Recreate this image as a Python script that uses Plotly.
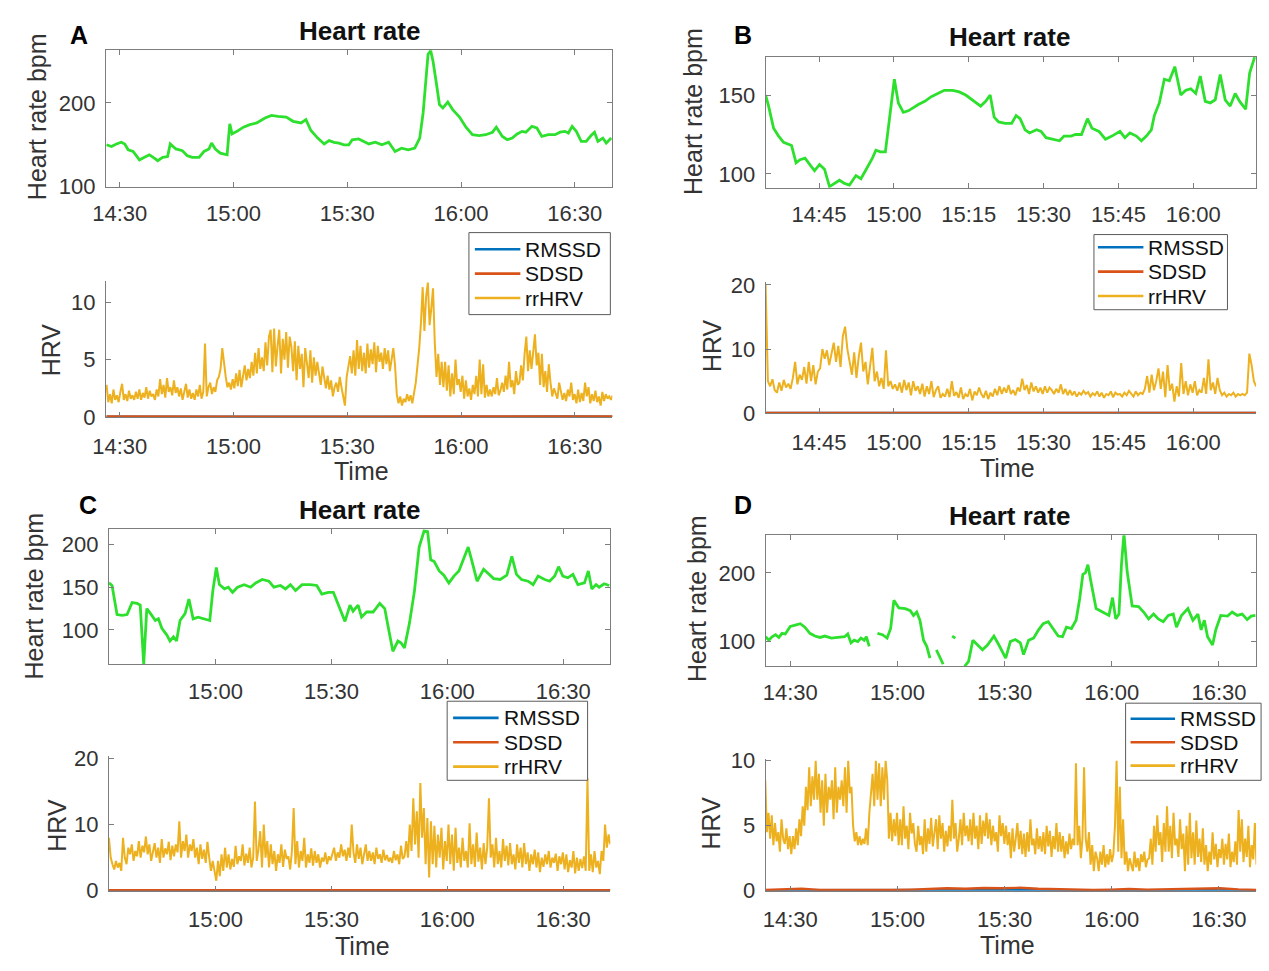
import pandas as pd
import plotly.graph_objects as go

DAY = "2021-06-01"

# ---------------- Heart rate (bpm) ----------------
# Panel A: minutes after 14:30
a_hr_min = [-3.5, -2.2, -0.9, 0.4, 1.3, 2.2, 3.5, 5.2, 6.5, 7.8,
            9.1, 10.0, 11.3, 12.6, 13.3, 14.8, 16.5, 17.8, 19.1, 20.9,
            22.2, 23.5, 24.2, 25.2, 26.5, 28.3, 29.0, 29.6, 30.9, 32.6,
            34.3, 36.1, 38.3, 40.0, 41.7, 43.9, 45.7, 47.0, 47.8, 49.1,
            50.4, 52.2, 53.9, 55.2, 56.5, 57.8, 59.1, 60.4, 61.3, 63.0,
            64.3, 65.7, 67.4, 69.1, 70.9, 72.6, 74.3, 76.1, 77.8, 79.1,
            80.0, 80.7, 81.3, 82.0, 82.6, 83.5, 84.3, 85.2, 86.5, 87.8,
            89.6, 91.3, 93.0, 94.8, 96.5, 98.3, 99.3, 100.9, 102.2, 103.5,
            104.8, 106.1, 107.1, 108.7, 110.0, 111.3, 113.0, 114.8, 116.1, 117.4,
            118.3, 119.3, 120.4, 121.7, 123.0, 124.3, 125.2, 126.1, 127.4, 128.3,
            129.6]
a_hr_bpm = [150, 148, 151, 153, 151, 144, 142, 132, 135, 138,
            134, 131, 135, 136, 151, 145, 143, 137, 135, 135,
            142, 145, 152, 145, 140, 138, 175, 163, 166, 171,
            174, 176, 182, 185, 184, 183, 178, 177, 176, 180,
            167, 158, 151, 155, 153, 152, 150, 150, 156, 157,
            154, 151, 153, 150, 153, 142, 146, 144, 146, 158,
            188, 227, 258, 262, 250, 223, 198, 194, 201, 192,
            183, 171, 162, 161, 162, 165, 171, 160, 156, 158,
            163, 166, 165, 172, 170, 160, 162, 162, 165, 166,
            164, 172, 166, 154, 154, 161, 165, 154, 158, 152,
            158]

# Panel B: minutes after 14:45
b_hr_min = [-10.7, -10.1, -9.1, -8.1, -7.1, -6.1, -5.5, -4.6, -3.8, -2.8,
            -1.8, -0.9, 0.1, 1.1, 2.1, 3.1, 4.1, 5.1, 6.1, 7.4,
            8.4, 9.3, 10.7, 11.4, 12.3, 13.3, 14.3, 15.1, 15.9, 16.9,
            17.9, 18.9, 19.9, 21.2, 22.5, 23.8, 25.1, 26.8, 28.1, 29.4,
            30.7, 32.4, 33.4, 34.3, 35.1, 36.0, 37.3, 38.6, 39.5, 40.3,
            41.3, 42.2, 43.6, 44.5, 45.5, 46.8, 48.2, 49.1, 50.5, 51.4,
            52.6, 53.8, 54.7, 56.1, 57.4, 58.7, 60.3, 61.3, 62.3, 63.6,
            64.6, 65.6, 66.6, 67.2, 68.2, 69.2, 70.2, 71.3, 72.5, 73.5,
            74.5, 75.5, 76.4, 77.4, 78.4, 79.4, 80.4, 81.4, 82.4, 83.4,
            84.3, 85.5, 86.3, 87.3]
b_hr_bpm = [150, 143, 129, 124, 120, 119, 118, 107, 109, 110,
            106, 102, 106, 103, 92, 94, 96, 94, 93, 99,
            97, 102, 110, 115, 114, 114, 139, 160, 145, 139,
            140, 142, 144, 146, 149, 151, 153, 153, 152, 150,
            147, 143, 146, 150, 136, 133, 132, 132, 137, 135,
            128, 126, 128, 127, 123, 122, 121, 124, 124, 125,
            125, 135, 129, 127, 122, 124, 127, 123, 126, 124,
            121, 124, 128, 137, 145, 160, 159, 168, 150, 153,
            154, 151, 162, 146, 145, 147, 163, 147, 143, 151,
            146, 141, 164, 174]

# Panel C: minutes after 15:00
c_hr_min = [-27.6, -26.8, -25.5, -24.2, -22.9, -21.6, -20.3, -19.5, -18.6, -17.8,
            -16.5, -15.6, -14.8, -13.9, -12.6, -11.8, -10.9, -10.1, -9.2, -7.9,
            -6.9, -5.8, -4.5, -2.8, -1.5, -0.7, 0.2, 1.0, 2.3, 3.3,
            4.4, 5.7, 7.4, 9.1, 10.4, 12.1, 13.8, 15.1, 16.8, 18.1,
            19.4, 20.7, 22.4, 24.5, 26.2, 27.5, 29.2, 30.5, 31.4, 32.6,
            33.5, 34.8, 35.6, 36.9, 37.8, 39.1, 40.8, 42.5, 43.8, 45.0,
            45.9, 47.2, 48.0, 48.9, 50.2, 51.5, 52.7, 54.0, 54.9, 55.7,
            56.6, 57.9, 59.1, 60.4, 61.7, 63.0, 64.3, 65.4, 66.4, 67.7,
            69.4, 70.7, 72.0, 73.7, 75.4, 76.7, 77.9, 79.2, 80.9, 82.2,
            83.5, 85.2, 86.5, 87.8, 88.8, 89.9, 91.2, 92.5, 93.8, 95.5,
            96.5, 97.4, 98.5, 99.3, 100.6, 101.9]
c_hr_bpm = [155, 152, 118, 117, 118, 132, 131, 129, 60, 125,
            117, 111, 113, 102, 94, 87, 92, 87, 111, 119,
            136, 113, 115, 113, 111, 146, 173, 153, 148, 150,
            144, 150, 153, 150, 155, 159, 157, 150, 152, 148,
            153, 146, 153, 153, 152, 142, 144, 144, 134, 121,
            110, 129, 122, 129, 115, 121, 121, 131, 125, 96,
            75, 87, 85, 79, 108, 146, 197, 216, 215, 182,
            180, 169, 164, 155, 163, 169, 184, 197, 180, 157,
            171, 165, 160, 159, 164, 186, 165, 159, 157, 153,
            163, 159, 157, 163, 174, 163, 161, 165, 153, 155,
            169, 148, 153, 150, 154, 152]

# Panel D: minutes after 14:30 (None = missing samples)
d_hr_min = [-6.9, -6.0, -5.1, -4.1, -3.2, -2.3, -1.4, 0.0, 1.4, 2.8,
            4.1, 5.5, 6.9, 8.3, 9.7, 11.5, 13.3, 15.2, 16.1, 17.0,
            17.9, 18.9, 19.8, 20.7, 21.3, 22.1, 23.0, 24.4, 25.8, 27.1,
            28.1, 29.0, 30.4, 32.2, 33.6, 34.5, 35.4, 36.3, 37.3, 38.2,
            39.1, 40.0, 40.9, 42.1, 42.8, 43.5, 45.3, 46.2, 48.0, 48.8,
            49.9, 51.1, 52.4, 53.8, 55.2, 57.0, 58.4, 60.3, 61.6, 63.0,
            64.4, 65.3, 66.7, 68.1, 69.5, 70.8, 72.2, 73.6, 75.0, 76.2,
            77.3, 78.7, 80.0, 81.0, 81.9, 82.6, 83.3, 84.2, 85.6, 87.4,
            89.2, 90.2, 91.1, 92.0, 92.7, 93.4, 94.3, 95.7, 97.5, 98.9,
            100.3, 101.7, 103.0, 104.4, 105.8, 107.2, 108.1, 109.5, 111.3, 112.7,
            114.1, 115.0, 115.9, 116.8, 118.2, 119.1, 120.5, 122.4, 123.7, 125.1,
            126.5, 127.9, 129.0, 130.2]
d_hr_bpm = [107, 102, 107, 110, 106, 112, 111, 122, 124, 126,
            121, 112, 108, 106, 108, 105, 106, 107, 111, 98,
            102, 100, 105, 102, 107, 93, None, 112, 110, 105,
            119, 160, 149, 148, 145, 138, 143, 131, 102, 93,
            76, None, 88, 74, 67, None, 108, 105, None, 64,
            71, 102, 95, 88, 95, 108, 95, 76, 100, 103,
            98, 81, 102, 105, 117, 126, 129, 119, 108, 107,
            121, 119, 131, 162, 198, 200, 212, 186, 148, 143,
            138, 164, 133, 140, 212, 257, 202, 152, 151, 143,
            133, 140, 133, 129, 138, 140, 121, 138, 148, 131,
            140, 117, 131, 107, 95, 117, 138, 137, 143, 138,
            140, 132, 137, 138]

# ---------------- HRV (regularly sampled between start and end) ----------------
a_hrv_span = ("14:26:30", "16:40:00")
a_rrhrv = [2.8, 1.3, 2.0, 1.2, 2.4, 1.5, 1.9, 1.3,
           2.2, 2.9, 1.5, 2.0, 1.4, 2.3, 1.6, 1.9, 1.5, 2.2, 1.6,
           2.4, 1.5, 2.1, 1.7, 2.6, 1.6, 2.3, 1.8, 2.0, 1.5, 2.4,
           1.8, 3.3, 2.0, 2.8, 1.7, 3.4, 2.2, 2.6, 1.9, 3.2, 2.1,
           2.6, 1.8, 2.5, 1.5, 2.2, 2.9, 1.7, 2.4, 1.6, 2.1, 1.5,
           2.4, 1.8, 2.8, 1.6, 2.2, 6.4, 1.8, 2.6, 3.0, 2.0, 2.6,
           2.2, 3.2, 3.5, 4.2, 6.0, 4.6, 3.5, 2.6, 3.0, 2.4, 3.3,
           2.5, 3.8, 2.7, 4.1, 2.6, 3.4, 4.5, 3.2, 4.2, 3.4, 4.8,
           3.6, 5.6, 3.8, 6.0, 4.2, 5.2, 4.0, 6.5, 4.5, 7.0, 7.6,
           3.9, 7.7, 4.4, 6.2, 7.6, 3.8, 6.8, 5.0, 7.4, 4.3, 7.0,
           6.1, 4.0, 6.6, 3.2, 6.2, 4.2, 5.5, 2.6, 6.0, 4.8, 3.4,
           5.8, 3.0, 5.2, 3.6, 4.8, 3.9, 2.8, 4.4, 3.2, 2.5, 3.6,
           2.4, 3.2, 1.8, 2.6, 3.0, 2.2, 3.5, 2.6, 1.6, 1.0, 3.5,
           4.6, 5.3, 3.8, 5.8, 3.6, 6.7, 4.2, 6.2, 4.0, 5.6, 3.8,
           6.4, 4.3, 5.9, 4.6, 6.5, 3.9, 6.2, 4.8, 5.6, 4.2, 6.0,
           4.6, 5.8, 4.0, 5.2, 6.0, 4.5, 2.0, 1.2, 1.8, 1.0, 1.6,
           1.3, 2.0, 1.4, 1.9, 1.2, 2.2, 3.0, 4.5, 6.0, 8.2, 11.3,
           7.5, 10.5, 11.7, 8.0, 9.5, 11.2, 6.5, 3.5, 5.5, 2.8, 4.8,
           2.6, 4.8, 2.3, 4.5, 1.8, 3.8, 2.0, 5.0, 2.8, 3.3, 2.2,
           3.6, 1.6, 3.2, 1.8, 2.5, 1.5, 2.8, 2.0, 3.6, 1.8, 5.0,
           2.0, 4.6, 1.7, 2.8, 1.8, 2.4, 1.8, 2.6, 2.0, 3.4, 1.9,
           2.3, 3.0, 2.2, 3.6, 2.4, 4.8, 2.6, 3.2, 2.0, 4.0, 2.8,
           3.0, 4.5, 3.2, 5.5, 7.0, 4.0, 5.8, 4.2, 5.6, 7.2, 4.5,
           5.6, 2.8, 5.5, 2.6, 4.0, 2.2, 4.6, 3.0, 1.8, 2.5, 2.0,
           1.6, 3.0, 2.2, 1.5, 2.1, 1.4, 2.4, 1.8, 3.0, 1.5, 2.0,
           1.2, 2.4, 1.3, 2.1, 1.4, 3.0, 1.8, 2.6, 1.2, 2.0, 1.4,
           2.3, 1.3, 1.8, 1.0, 2.2, 1.4, 2.0, 1.6, 1.8, 1.5, 1.9]
a_rmssd = [0.04, 0.05, 0.03, 0.04, 0.05, 0.04, 0.03, 0.05, 0.04, 0.04, 0.05, 0.04]
a_sdsd = [0.05, 0.04, 0.05, 0.04, 0.06, 0.05, 0.04, 0.05, 0.05, 0.04, 0.05, 0.05]

b_hrv_span = ("14:34:18", "16:12:36")
b_rrhrv = [20.0, 5.0,
           4.2, 5.3, 3.6, 3.2, 4.8, 3.5, 5.2, 4.0, 4.6, 3.8, 5.5,
           8.0, 4.5, 6.0, 5.2, 7.2, 4.6, 8.0, 5.0, 7.5, 4.5, 6.5,
           7.0, 10.0, 8.5, 9.8, 7.5, 9.0, 11.0, 8.0, 10.5, 7.2, 12.0,
           13.5, 10.0, 8.0, 6.0, 9.5, 5.5, 8.8, 11.0, 6.5, 8.0, 4.5,
           7.5, 10.2, 5.0, 6.5, 4.2, 5.5, 3.8, 9.8, 4.2, 5.0, 3.8,
           4.5, 3.5, 4.8, 3.2, 5.2, 3.6, 4.8, 2.8, 5.0, 3.5, 4.2,
           3.0, 4.6, 2.6, 4.2, 3.0, 5.0, 2.5, 3.6, 4.2, 2.4, 3.0,
           2.6, 3.8, 2.5, 5.0, 2.7, 3.3, 2.4, 4.0, 2.2, 3.0, 2.6,
           3.8, 2.0, 3.4, 2.8, 4.0, 3.0, 2.4, 3.5, 2.2, 3.2, 2.6,
           3.8, 2.8, 4.2, 3.0, 4.0, 3.2, 4.4, 3.0, 3.6, 2.8, 4.0,
           3.4, 5.4, 3.6, 4.4, 3.0, 4.8, 3.4, 4.2, 3.2, 4.0, 3.0,
           4.2, 3.2, 4.0, 3.6, 3.0, 3.8, 3.2, 4.5, 3.0, 3.8, 2.8,
           3.6, 2.8, 3.4, 2.6, 3.2, 2.9, 3.5, 3.0, 3.3, 2.6, 3.1,
           2.8, 3.4, 2.6, 3.2, 2.4, 3.0, 2.8, 3.4, 2.5, 3.2, 2.9,
           3.0, 2.6, 3.2, 2.8, 3.5, 3.0, 2.6, 3.4, 2.8, 3.2, 3.0,
           3.8, 5.8, 3.2, 6.0, 3.6, 5.0, 7.0, 3.8, 6.5, 2.5, 7.5,
           3.5, 4.6, 1.8, 4.2, 2.6, 7.8, 3.0, 5.0, 2.8, 4.5, 3.2,
           5.0, 2.8, 3.6, 3.2, 5.5, 3.0, 8.4, 3.6, 4.8, 3.0, 5.5,
           3.6, 2.8, 3.2, 2.6, 3.0, 2.8, 3.2, 2.6, 3.0, 2.8, 3.0,
           2.8, 3.2, 9.3, 7.5, 5.0, 4.2]
b_rmssd = [0.04, 0.05, 0.04, 0.03, 0.05, 0.04, 0.04, 0.05, 0.04, 0.03]
b_sdsd = [0.05, 0.05, 0.04, 0.05, 0.06, 0.05, 0.04, 0.05, 0.05, 0.05]

c_hrv_span = ("14:32:24", "16:42:12")
c_rrhrv = [8.0, 5.0, 4.0, 3.2, 4.5, 3.5,
           4.2, 3.0, 8.0, 5.0, 4.0, 6.5, 5.5, 7.0, 4.5, 6.0, 5.2,
           7.5, 5.0, 6.8, 5.8, 8.2, 5.5, 7.0, 4.5, 6.0, 7.2, 5.0,
           6.5, 4.2, 7.8, 5.0, 6.4, 5.5, 7.4, 4.6, 6.8, 5.2, 7.0,
           5.8, 10.5, 5.0, 7.5, 6.0, 8.5, 5.0, 7.0, 6.0, 7.8, 5.0,
           6.5, 4.0, 7.0, 4.8, 6.2, 4.2, 7.4, 5.0, 3.0, 4.5, 3.2,
           1.5, 4.5, 2.2, 5.5, 3.0, 6.5, 3.5, 5.5, 3.2, 4.8, 3.6,
           6.8, 4.0, 5.2, 4.5, 7.0, 3.8, 5.6, 4.2, 6.5, 3.5, 5.0,
           13.5, 4.5, 6.2, 9.0, 3.5, 10.0, 5.0, 7.5, 3.5, 7.0, 4.0,
           6.0, 3.0, 5.5, 4.2, 7.0, 3.6, 6.2, 4.8, 5.2, 3.2, 6.0,
           12.5, 4.0, 7.5, 3.5, 6.0, 4.5, 8.0, 3.5, 5.5, 4.2, 6.4,
           3.8, 6.0, 4.2, 5.5, 3.5, 5.0, 4.4, 5.8, 4.0, 5.2, 4.6,
           5.5, 6.5, 4.5, 5.8, 5.0, 7.0, 5.2, 6.2, 4.5, 6.5, 5.0,
           10.0, 5.8, 4.2, 7.0, 4.8, 6.5, 4.0, 5.5, 7.0, 4.5, 6.0,
           4.5, 5.8, 4.0, 6.5, 4.8, 5.5, 4.2, 6.2, 4.6, 5.4, 4.4,
           5.0, 4.2, 6.0, 4.6, 5.5, 4.0, 6.8, 4.8, 5.2, 7.5, 5.0,
           10.0, 6.0, 14.0, 7.0, 12.0, 5.0, 16.3, 8.0, 12.5, 4.0, 11.0,
           2.0, 10.5, 4.0, 9.8, 3.5, 8.5, 5.0, 9.5, 3.2, 7.5, 4.5,
           10.0, 4.0, 8.5, 3.0, 9.5, 4.2, 6.5, 3.5, 8.0, 4.5, 6.0,
           3.5, 10.2, 4.0, 7.0, 3.6, 8.8, 4.4, 6.5, 3.2, 7.2, 4.0,
           6.5, 14.0, 5.0, 7.0, 3.5, 8.0, 4.0, 6.0, 3.5, 7.8, 4.5,
           6.8, 3.8, 7.2, 4.0, 5.5, 3.2, 7.0, 4.2, 6.5, 3.5, 7.2,
           4.0, 5.8, 3.0, 5.5, 4.0, 6.2, 3.5, 5.8, 2.8, 5.0, 3.6,
           5.5, 4.0, 6.0, 3.5, 5.0, 4.2, 5.6, 3.0, 5.2, 4.0, 5.8,
           3.2, 5.5, 2.8, 4.6, 3.5, 6.0, 2.6, 5.0, 3.0, 4.8, 3.4,
           5.2, 3.0, 17.0, 3.0, 5.5, 2.8, 6.0, 3.5, 4.5, 2.5, 6.0,
           4.5, 10.0, 6.5, 8.5, 7.0]
c_rmssd = [0.04, 0.05, 0.04, 0.04, 0.05, 0.03, 0.04, 0.05, 0.04, 0.05, 0.04, 0.04]
c_sdsd = [0.05, 0.06, 0.05, 0.04, 0.05, 0.05, 0.06, 0.05, 0.04, 0.05, 0.05, 0.05]

d_hrv_span = ("14:23:00", "16:40:30")
d_rrhrv = [8.5, 4.5, 6.0, 4.0, 5.8,
           3.5, 5.2, 3.8, 4.5, 3.0, 5.5, 4.0, 3.6, 4.8, 3.2, 4.2,
           2.8, 4.2, 3.2, 4.8, 3.5, 5.5, 4.2, 6.5, 5.0, 8.0, 6.2,
           9.5, 6.5, 8.8, 7.0, 10.0, 7.0, 9.0, 6.0, 8.5, 5.0, 9.0,
           6.0, 8.0, 7.0, 8.5, 5.5, 9.5, 6.0, 8.0, 7.0, 8.5, 6.5,
           9.5, 6.0, 10.0, 7.5, 8.0, 5.0, 3.8, 4.5, 3.5, 4.2, 3.5,
           4.0, 3.6, 4.8, 3.5, 6.0, 7.5, 9.0, 6.5, 10.0, 7.0, 9.8,
           6.5, 9.5, 7.0, 10.0, 8.5, 4.0, 6.0, 3.8, 5.5, 4.2, 6.0,
           3.5, 5.5, 3.5, 6.5, 4.0, 5.0, 3.2, 6.0, 4.4, 5.2, 3.6,
           3.0, 5.0, 3.5, 4.2, 2.8, 5.5, 3.0, 4.8, 3.6, 5.6, 3.4,
           4.5, 5.5, 3.2, 5.8, 4.0, 5.2, 3.0, 4.6, 3.4, 5.0, 3.8,
           7.0, 4.0, 5.2, 3.0, 4.0, 5.5, 3.5, 6.0, 4.2, 5.0, 3.8,
           5.5, 3.5, 6.0, 4.0, 5.0, 3.2, 5.8, 3.6, 5.4, 4.2, 6.0,
           4.0, 5.5, 3.5, 5.0, 3.8, 4.5, 3.0, 5.8, 4.2, 5.2, 3.6,
           5.0, 3.5, 4.5, 2.5, 4.8, 3.0, 4.0, 5.2, 3.2, 4.6, 2.8,
           4.4, 2.6, 4.5, 3.0, 5.5, 3.5, 4.0, 2.8, 4.8, 3.2, 4.2,
           3.0, 4.5, 2.8, 5.0, 3.4, 4.6, 2.6, 4.2, 3.2, 5.2, 3.0,
           4.5, 3.0, 4.2, 2.5, 3.8, 2.8, 4.4, 3.2, 4.0, 3.5, 9.8,
           3.5, 5.0, 2.5, 4.0, 9.5, 4.0, 3.0, 4.5, 2.0, 3.5, 1.5,
           3.0, 2.5, 1.5, 3.0, 2.0, 3.5, 1.8, 2.8, 2.0, 3.2, 2.2,
           2.8, 5.0, 10.0, 3.0, 8.0, 2.5, 5.5, 2.0, 3.0, 1.5, 2.5,
           2.0, 1.5, 3.0, 1.8, 2.5, 1.5, 2.8, 2.2, 3.0, 1.8, 2.4,
           2.5, 4.0, 2.0, 5.0, 3.0, 5.8, 3.5, 4.5, 2.2, 5.2, 3.0,
           6.5, 3.0, 5.0, 2.5, 6.0, 3.5, 4.0, 2.6, 5.5, 3.2, 4.4,
           1.5, 5.0, 2.0, 6.0, 2.5, 4.5, 2.0, 5.4, 2.6, 4.0, 2.2,
           4.8, 2.0, 3.5, 1.5, 3.0, 2.0, 4.5, 2.4, 3.6, 1.8, 3.2,
           2.5, 4.0, 2.0, 3.6, 2.4, 4.4, 1.8, 3.0, 2.2, 3.8, 2.0,
           6.2, 3.0, 5.5, 2.2, 4.0, 2.6, 5.0, 1.8, 3.5, 2.4, 5.2, 2.0]
d_rmssd = [0.04, 0.05, 0.04, 0.04, 0.05, 0.04, 0.05, 0.04, 0.04, 0.05, 0.04, 0.04]
d_sdsd = [0.05, 0.08, 0.15, 0.06, 0.05, 0.04, 0.05, 0.06, 0.08, 0.12, 0.18, 0.15, 0.20, 0.18,
          0.22, 0.15, 0.12, 0.10, 0.05, 0.08, 0.12, 0.08, 0.10, 0.15, 0.12, 0.18, 0.10, 0.06]

series_names = ["RMSSD", "SDSD", "rrHRV"]

# ---------------- styling ----------------
W, H = 1269, 971
FONT = "Liberation Sans, Arial, sans-serif"
GREEN = "#2ee02e"
BLUE, ORANGE, GOLD = "#0072BD", "#D95319", "#EDB120"
SERIES_COLORS = [BLUE, ORANGE, GOLD]
AXC = "#7d7d7d"
TXT = "#333333"


def t_at(clock, mins):
    base = pd.Timestamp(f"{DAY} {clock}")
    return [base + pd.Timedelta(minutes=m) for m in mins]


def t_grid(span, n):
    return pd.date_range(f"{DAY} {span[0]}", f"{DAY} {span[1]}", periods=n)


fig = go.Figure()

# (id, x px, y px, x range, y range, y dtick, x tick0, x dtick min, boxed)
panels = [
    (1, (93, 605), (41, 181), ("14:26:21", "16:39:54"), (100, 263), 100, "14:30", 30, True),
    (2, (93, 605), (278, 417), ("14:26:21", "16:39:54"), (0, 11.8), 5, "14:30", 30, False),
    (3, (760, 1256), (48, 182), ("14:34:18", "16:12:36"), (91.3, 174.2), 50, "14:45", 15, True),
    (4, (760, 1256), (279, 413), ("14:34:18", "16:12:36"), (0, 20.4), 10, "14:45", 15, False),
    (5, (96, 603), (532, 670), ("14:32:24", "16:42:12"), (60, 217.6), 50, "15:00", 30, True),
    (6, (96, 603), (764, 902), ("14:32:24", "16:42:12"), (0, 20.4), 10, "15:00", 30, False),
    (7, (760, 1256), (538, 672), ("14:23:06", "16:40:24"), (64.3, 254.8), 100, "14:30", 30, True),
    (8, (760, 1256), (767, 902), ("14:23:06", "16:40:24"), (0, 10.15), 5, "14:30", 30, False),
]

tickfont = dict(family=FONT, size=22, color=TXT)
layout_axes = {}
for pid, xp, yp, xr, yr, ydt, t0, xdt, boxed in panels:
    sfx = "" if pid == 1 else str(pid)
    layout_axes["xaxis" + sfx] = dict(
        domain=[xp[0] / W, xp[1] / W], anchor="y" + sfx, type="date",
        range=[f"{DAY} {xr[0]}", f"{DAY} {xr[1]}"],
        tick0=f"{DAY} {t0}", dtick=xdt * 60000, tickformat="%H:%M",
        showline=True, linecolor=AXC, linewidth=1, mirror="allticks" if boxed else False,
        ticks="inside", ticklen=5, tickcolor=AXC, tickfont=tickfont,
        ticklabelstandoff=7 if boxed else 9, showgrid=False, zeroline=False)
    layout_axes["yaxis" + sfx] = dict(
        domain=[1 - yp[1] / H, 1 - yp[0] / H], anchor="x" + sfx,
        range=list(yr), tick0=0, dtick=ydt,
        showline=True, linecolor=AXC, linewidth=1, mirror="allticks" if boxed else False,
        ticks="inside", ticklen=5, tickcolor=AXC, tickfont=tickfont,
        ticklabelstandoff=5, showgrid=False, zeroline=False)

# heart-rate traces
hr_sets = [(1, "14:30", a_hr_min, a_hr_bpm), (3, "14:45", b_hr_min, b_hr_bpm),
           (5, "15:00", c_hr_min, c_hr_bpm), (7, "14:30", d_hr_min, d_hr_bpm)]
for pid, base, mins, bpm in hr_sets:
    sfx = "" if pid == 1 else str(pid)
    fig.add_trace(go.Scatter(x=t_at(base, mins), y=bpm, mode="lines",
                             line=dict(color=GREEN, width=2.8), connectgaps=False,
                             xaxis="x" + sfx, yaxis="y" + sfx, showlegend=False,
                             hoverinfo="skip"))

# HRV traces
hrv_sets = [(2, a_hrv_span, a_rmssd, a_sdsd, a_rrhrv),
            (4, b_hrv_span, b_rmssd, b_sdsd, b_rrhrv),
            (6, c_hrv_span, c_rmssd, c_sdsd, c_rrhrv),
            (8, d_hrv_span, d_rmssd, d_sdsd, d_rrhrv)]
for pid, span, rm, sd, rr in hrv_sets:
    sfx = str(pid)
    for name, vals, col, wd in zip(series_names, (rm, sd, rr), SERIES_COLORS, (2.4, 2.4, 2.0)):
        fig.add_trace(go.Scatter(x=t_grid(span, len(vals)), y=vals, mode="lines", name=name,
                                 line=dict(color=col, width=wd), showlegend=False,
                                 xaxis="x" + sfx, yaxis="y" + sfx, hoverinfo="skip"))

# MATLAB-style legend boxes (box px, line px, text x, entry rows px)
legend_boxes = [
    ((460, 603, 228, 312), (466, 512), 515, (245, 270, 295)),
    ((1092, 1227, 230, 307), (1096, 1142), 1145, (243, 268, 293)),
    ((438, 580, 708, 789), (444, 490), 493, (725, 750, 775)),
    ((1124, 1261, 710, 789), (1129, 1174), 1177, (726, 750, 774)),
]
shapes = []
annotations = []
for (bx0, bx1, by0, by1), (lx0, lx1), tx, rows in legend_boxes:
    shapes.append(dict(type="rect", xref="paper", yref="paper", layer="above",
                       x0=bx0 / W, x1=bx1 / W, y0=1 - by1 / H, y1=1 - by0 / H,
                       line=dict(color="#5a5a5a", width=1), fillcolor="white"))
    for name, col, ry in zip(series_names, SERIES_COLORS, rows):
        shapes.append(dict(type="line", xref="paper", yref="paper", layer="above",
                           x0=lx0 / W, x1=lx1 / W, y0=1 - ry / H, y1=1 - ry / H,
                           line=dict(color=col, width=2.6)))
        annotations.append(dict(text=name, x=tx / W, y=1 - ry / H, xref="paper", yref="paper",
                                xanchor="left", yanchor="middle", showarrow=False,
                                font=dict(family=FONT, size=21, color="#111111")))


def ann(text, x, y, size, bold=False, angle=0, color="#222222"):
    return dict(text=f"<b>{text}</b>" if bold else text, x=x / W, y=1 - y / H,
                xref="paper", yref="paper", xanchor="center", yanchor="middle",
                showarrow=False, textangle=angle,
                font=dict(family=FONT, size=size, color=color))


TS, LS = 26, 25
annotations += [
    ann("Heart rate", 349, 21, TS, bold=True, color="#111111"),
    ann("Heart rate", 1007, 28, TS, bold=True, color="#111111"),
    ann("Heart rate", 349, 512, TS, bold=True, color="#111111"),
    ann("Heart rate", 1007, 518, TS, bold=True, color="#111111"),
    ann("A", 66, 26, 25, bold=True, color="#000000"),
    ann("B", 737, 26, 25, bold=True, color="#000000"),
    ann("C", 75, 507, 25, bold=True, color="#000000"),
    ann("D", 737, 507, 25, bold=True, color="#000000"),
    ann("Heart rate bpm", 24, 109, LS, angle=-90, color=TXT),
    ann("Heart rate bpm", 686, 104, LS, angle=-90, color=TXT),
    ann("Heart rate bpm", 20, 600, LS, angle=-90, color=TXT),
    ann("Heart rate bpm", 690, 603, LS, angle=-90, color=TXT),
    ann("HRV", 37, 348, LS, angle=-90, color=TXT),
    ann("HRV", 706, 344, LS, angle=-90, color=TXT),
    ann("HRV", 44, 835, LS, angle=-90, color=TXT),
    ann("HRV", 705, 833, LS, angle=-90, color=TXT),
    ann("Time", 351, 472, LS, color=TXT),
    ann("Time", 1005, 469, LS, color=TXT),
    ann("Time", 352, 959, LS, color=TXT),
    ann("Time", 1005, 958, LS, color=TXT),
]

fig.update_layout(width=W, height=H, margin=dict(l=0, r=0, t=0, b=0),
                  paper_bgcolor="white", plot_bgcolor="white", showlegend=False,
                  shapes=shapes, annotations=annotations, **layout_axes)

fig.write_html("out.html", config={"displayModeBar": False},
               post_script="document.body.style.margin='0px';document.body.style.overflow='hidden';")
